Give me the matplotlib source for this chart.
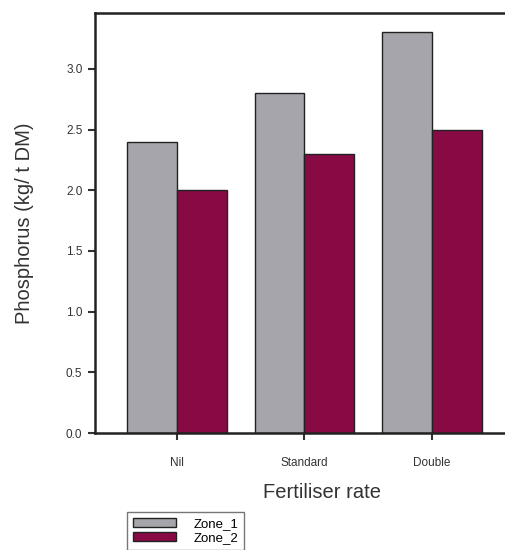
import matplotlib.pyplot as plt
import numpy as np
from matplotlib.patches import Patch

categories = ["Nil", "Standard", "Double"]
zone_1 = [2.4, 2.8, 3.3]
zone_2 = [2.0, 2.3, 2.5]
series_names = ["Zone_1", "Zone_2"]

plt.rcParams["font.family"] = ["Liberation Sans", "DejaVu Sans"]

fig = plt.figure(figsize=(5.05, 5.5), dpi=100)
ax = fig.add_axes([0.188, 0.2127, 0.881, 0.7636])

x = np.arange(len(categories))
w = 0.39
c1, c2 = "#a6a5ab", "#880a45"
ax.bar(x - w / 2, zone_1, w, color=c1, edgecolor="#222222", linewidth=1.0)
ax.bar(x + w / 2, zone_2, w, color=c2, edgecolor="#222222", linewidth=1.0)

ax.set_xlim(-0.643, 2.847)
ax.set_ylim(0, 3.46)
ax.set_yticks(np.arange(0, 3.01, 0.5))
ax.set_yticklabels([f"{v:.1f}" for v in np.arange(0, 3.01, 0.5)])
ax.set_xticks(x)
ax.set_xticklabels(categories)
ax.tick_params(axis="both", labelsize=8.5, colors="#333333", width=1.5, length=5, direction="out")
ax.tick_params(axis="x", pad=12)
ax.tick_params(axis="y", pad=4)
for s in ax.spines.values():
    s.set_linewidth(1.8)
    s.set_color("#222222")

ax.set_ylabel("Phosphorus (kg/ t DM)", fontsize=14.5, color="#333333")
ax.yaxis.set_label_coords(-0.137, 0.5)
ax.set_xlabel("Fertiliser rate", fontsize=14.5, color="#333333")
ax.xaxis.set_label_coords(0.51, -0.12)

handles = [Patch(facecolor=c1, edgecolor="#222222"), Patch(facecolor=c2, edgecolor="#222222")]
fig.legend(handles, series_names, loc="upper left", bbox_to_anchor=(0.2515, 0.069), fontsize=9.5,
           frameon=True, fancybox=False, edgecolor="#555555", handlelength=3.3, handleheight=0.7,
           labelspacing=0.15, borderpad=0.45, handletextpad=1.3, borderaxespad=0)

fig.savefig("out.png", dpi=100)
